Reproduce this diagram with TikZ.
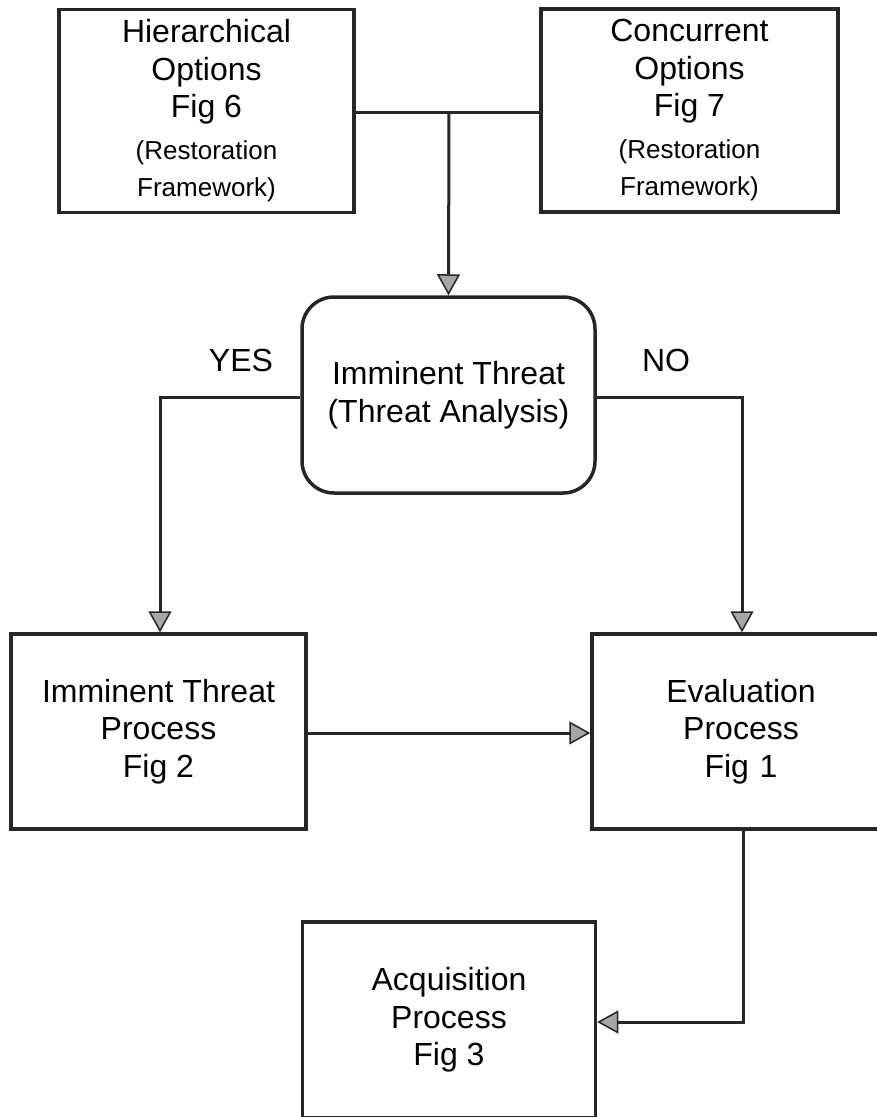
\documentclass[tikz,border=0pt]{standalone}
\usepackage{fontspec}
\setmainfont{Liberation Sans}
\usetikzlibrary{arrows.meta}
\tikzset{
  box/.style={draw=black!85, line width=3.5pt, inner sep=0pt, align=center,
    font=\fontsize{32}{37.5}\selectfont},
  conn/.style={draw=black!85, line width=3pt},
  arr/.style={conn, -{Triangle[length=21pt,width=23pt,fill=gray!70,line width=1.5pt]}},
  lbl/.style={font=\fontsize{32}{37.5}\selectfont, inner sep=0pt},
}
\newcommand{\smalltxt}{\fontsize{26}{30}\selectfont}
\begin{document}
\begin{tikzpicture}[x=1pt,y=-1pt]
\useasboundingbox (0,0) rectangle (877,1117);
\clip (0,0) rectangle (877,1117);
% boxes
\node[box, minimum width=295pt, minimum height=203pt] (hier) at (206.5,111)
  {Hierarchical\\Options\\Fig 6\\[4pt]\smalltxt (Restoration\\\smalltxt Framework)};
\node[box, minimum width=297pt, minimum height=203pt] (conc) at (689.5,110.5)
  {Concurrent\\Options\\Fig 7\\[4pt]\smalltxt (Restoration\\\smalltxt Framework)};
\node[box, rounded corners=32pt, minimum width=293pt, minimum height=196pt] (threat) at (448.5,395)
  {Imminent Threat\\(Threat Analysis)};
\node[box, minimum width=295pt, minimum height=195pt] (itp) at (158.5,731.5)
  {Imminent Threat\\Process\\Fig 2};
\node[box, minimum width=298pt, minimum height=195pt, text width=298pt] (eval) at (741,731.5)
  {Evaluation\\Process\\Fig 1};
\node[box, minimum width=293pt, minimum height=196pt] (acq) at (449,1020)
  {Acquisition\\Process\\Fig 3};
% labels
\node[lbl] (yes) at (241,360) {YES};
\node[lbl] (no) at (666,360) {NO};
% connectors
\coordinate (j) at (449,112);
\draw[conn] (hier.east |- j) -- (conc.west |- j);
\draw[arr] (j) -- (threat.north);
\coordinate (yl) at (160,397);
\coordinate (nr) at (742,397);
\draw[arr] (threat.west |- yl) -- (yl) -- (yl |- itp.north);
\draw[arr] (threat.east |- nr) -- (nr) -- (nr |- eval.north);
\draw[arr] (itp.east |- 0,733) -- (eval.west |- 0,733);
\coordinate (ed) at (743,1022);
\draw[arr] (ed |- eval.south) -- (ed) -- (acq.east |- ed);
\end{tikzpicture}
\end{document}
